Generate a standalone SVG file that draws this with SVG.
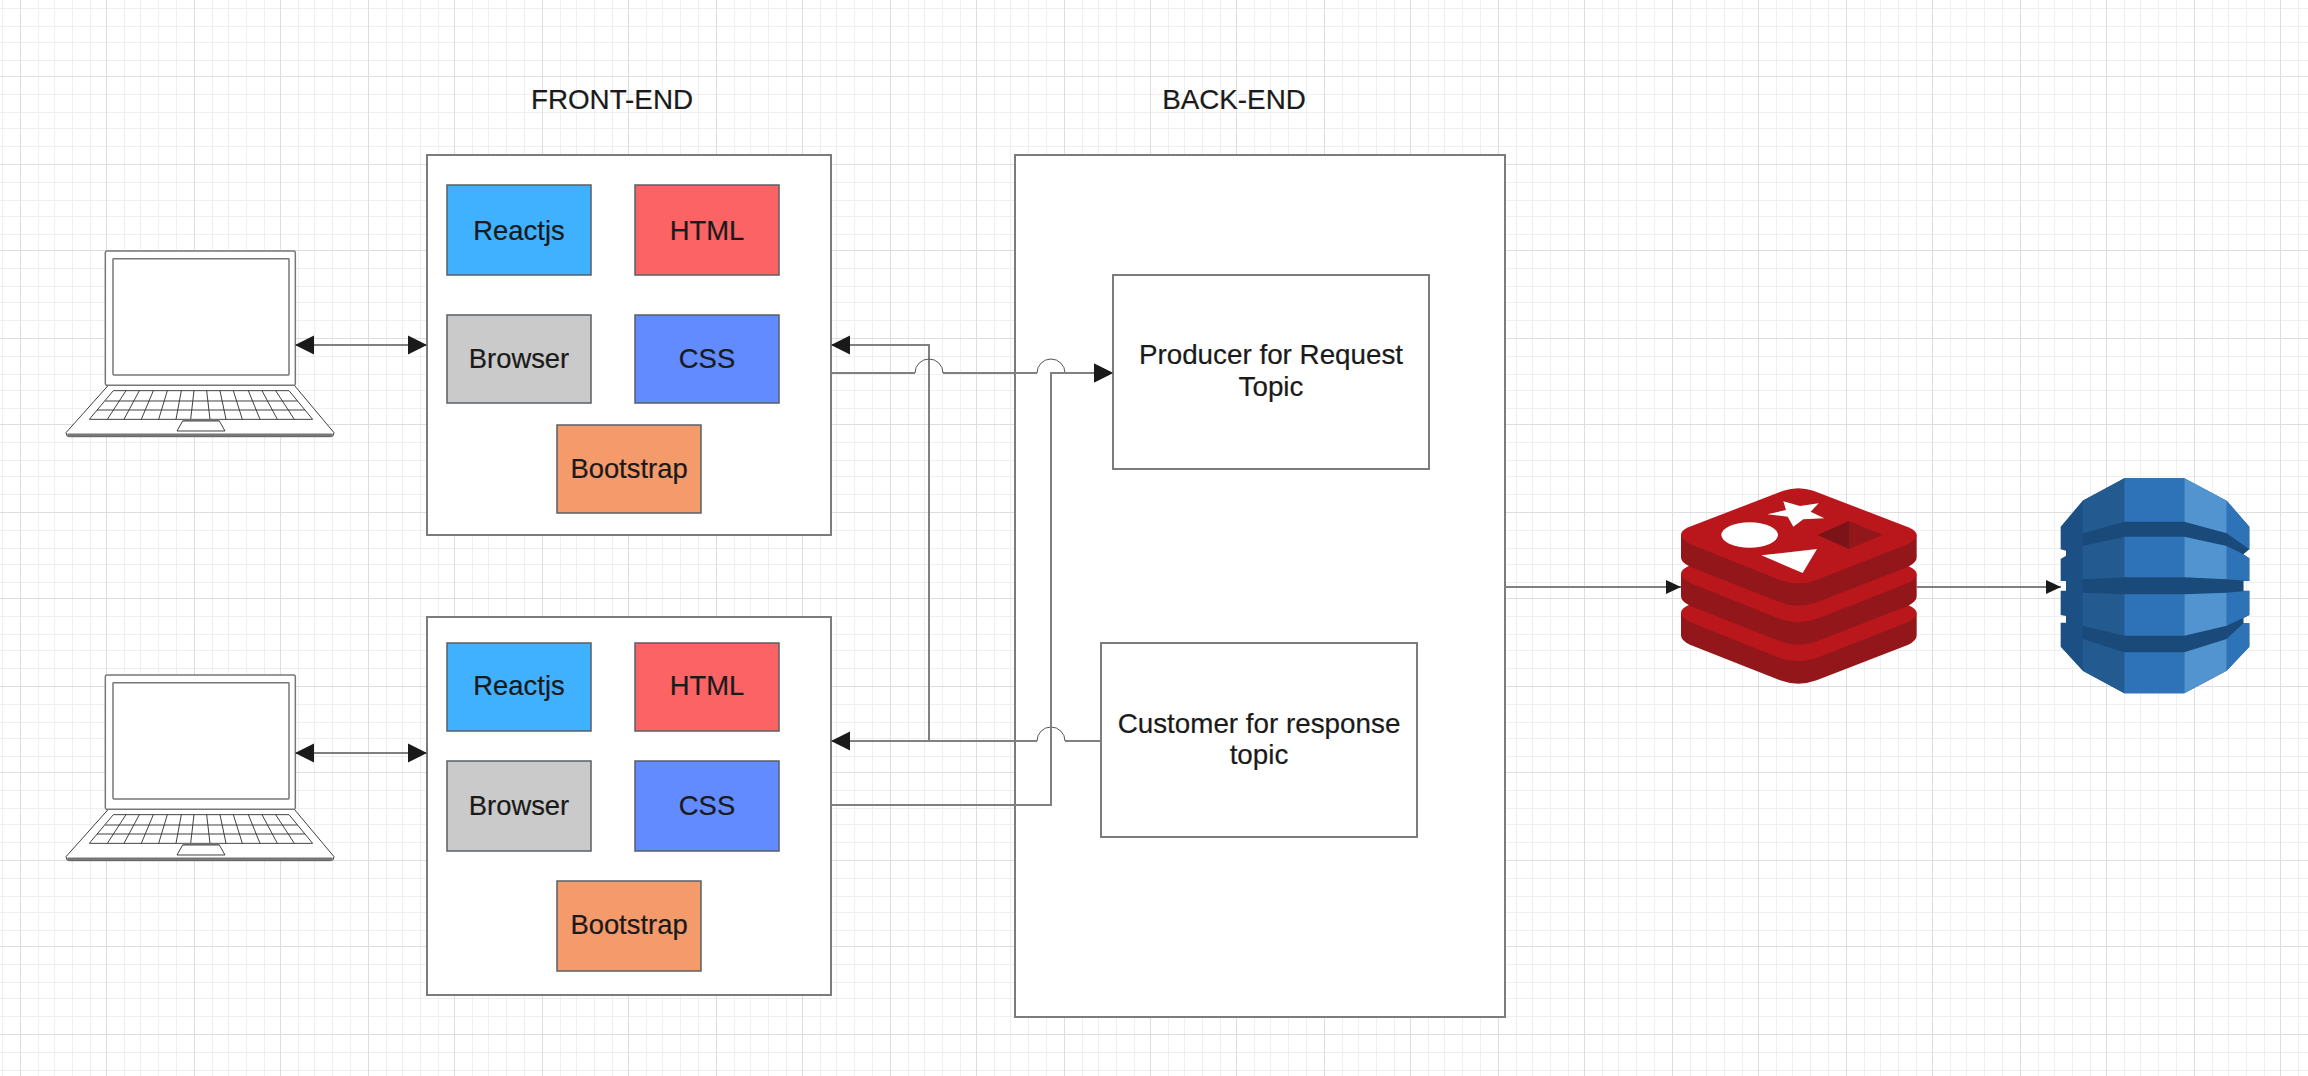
<svg xmlns="http://www.w3.org/2000/svg" width="2308" height="1076" viewBox="0 0 2308 1076">
<style>
.gmin{stroke:#efefef;stroke-width:1;fill:none}
.gmaj{stroke:#dedede;stroke-width:1;fill:none}
.box{fill:#fff;stroke:#7c7c7c;stroke-width:2}
.tile{stroke:#585f66;stroke-width:1.5}
.t{font-family:"Liberation Sans",Arial,sans-serif;font-size:27.4px;fill:#1a1a1a;stroke:#1a1a1a;stroke-width:.2;text-anchor:middle}
.h{font-size:27.8px}
.c{fill:none;stroke:#808080;stroke-width:2}
.j{fill:none;stroke:#555;stroke-width:1}
.lt{fill:#fff;stroke:#777;stroke-width:4.5;stroke-linejoin:round}
.ln{fill:none;stroke:#333;stroke-width:2.8}
.lb{fill:#fff;stroke:#333;stroke-width:2.8;stroke-linejoin:round}
</style>
<defs>
<marker id="big" markerUnits="userSpaceOnUse" markerWidth="19" markerHeight="20" refX="19" refY="10" orient="auto-start-reverse"><path d="M0 .5L19 10L0 19.5Z" fill="#1a1a1a"/></marker>
<marker id="small" markerUnits="userSpaceOnUse" markerWidth="15" markerHeight="15" refX="15" refY="7.5" orient="auto"><path d="M0 .5L15 7.5L0 14.5Z" fill="#1a1a1a"/></marker>
<path id="mv" class="gmin" d="M18 0V1076M34 0V1076M52 0V1076M70 0V1076"/>
<path id="mh" class="gmin" d="M0 18H2308M0 36H2308M0 52H2308M0 70H2308"/>
<g id="laptop" transform="scale(.33333)">
<path class="lb" d="M325 1156L198 1298Q198 1310 208 1310H992Q1002 1310 1002 1298L883 1156Z"/>
<path d="M202 1305H998" stroke="#777" stroke-width="9" fill="none"/>
<rect class="lt" x="316" y="753" width="570" height="403" rx="5"/>
<rect class="lt" x="339" y="776" width="528" height="349" rx="2"/>
<path class="ln" d="M340 1172H867L938 1258H268ZM315 1203H893M291 1230H915M378 1172L322 1258M418 1172L372 1258M460 1172L424 1258M502 1172L476 1258M544 1172L528 1258M582 1172L572 1258M620 1172L630 1258M660 1172L678 1258M700 1172L727 1258M745 1172L780 1258M786 1172L832 1258M827 1172L883 1258"/>
<path d="M548 1260H658" stroke="#777" stroke-width="5" fill="none"/>
<path class="ln" d="M548 1263H658L675 1293H531Z"/>
</g>
<g id="rlayer">
<path fill="#93171A" d="M63 195V262Q63 278 90 290L360 397Q415 417 470 397L745 290Q770 278 770 262V195Z"/>
<path fill="#B9171C" d="M85 172L370 62Q415 47 460 62L745 172Q770 183 770 195Q770 208 745 222L470 330Q415 350 360 330L90 222Q63 208 63 195Q63 182 85 172Z"/>
</g>
</defs>
<g id="grid">
<rect width="2308" height="1076" fill="#fff"/>
<path class="gmin" d="M2.5 0V1076M0 8.5H2308M0 26.5H2308M0 42.5H2308M0 60.5H2308"/>
<use href="#mv" x="20.5"/><use href="#mv" x="106.5"/><use href="#mv" x="194.5"/><use href="#mv" x="280.5"/><use href="#mv" x="368.5"/><use href="#mv" x="454.5"/><use href="#mv" x="542.5"/><use href="#mv" x="628.5"/><use href="#mv" x="716.5"/><use href="#mv" x="802.5"/><use href="#mv" x="890.5"/><use href="#mv" x="976.5"/><use href="#mv" x="1064.5"/><use href="#mv" x="1150.5"/><use href="#mv" x="1236.5"/><use href="#mv" x="1324.5"/><use href="#mv" x="1410.5"/><use href="#mv" x="1498.5"/><use href="#mv" x="1584.5"/><use href="#mv" x="1672.5"/><use href="#mv" x="1758.5"/><use href="#mv" x="1846.5"/><use href="#mv" x="1932.5"/><use href="#mv" x="2020.5"/><use href="#mv" x="2106.5"/><use href="#mv" x="2194.5"/><use href="#mv" x="2280.5"/>
<use href="#mh" y="76.5"/><use href="#mh" y="164.5"/><use href="#mh" y="250.5"/><use href="#mh" y="338.5"/><use href="#mh" y="424.5"/><use href="#mh" y="512.5"/><use href="#mh" y="598.5"/><use href="#mh" y="686.5"/><use href="#mh" y="772.5"/><use href="#mh" y="860.5"/><use href="#mh" y="946.5"/><use href="#mh" y="1034.5"/>
<path class="gmaj" d="M20.5 0V1076M106.5 0V1076M194.5 0V1076M280.5 0V1076M368.5 0V1076M454.5 0V1076M542.5 0V1076M628.5 0V1076M716.5 0V1076M802.5 0V1076M890.5 0V1076M976.5 0V1076M1064.5 0V1076M1150.5 0V1076M1236.5 0V1076M1324.5 0V1076M1410.5 0V1076M1498.5 0V1076M1584.5 0V1076M1672.5 0V1076M1758.5 0V1076M1846.5 0V1076M1932.5 0V1076M2020.5 0V1076M2106.5 0V1076M2194.5 0V1076M2280.5 0V1076M0 76.5H2308M0 164.5H2308M0 250.5H2308M0 338.5H2308M0 424.5H2308M0 512.5H2308M0 598.5H2308M0 686.5H2308M0 772.5H2308M0 860.5H2308M0 946.5H2308M0 1034.5H2308"/>
</g>
<g id="label-frontend"><text class="t h" x="612" y="108.5">FRONT-END</text></g>
<g id="label-backend"><text class="t h" x="1234" y="108.5">BACK-END</text></g>
<g id="laptop-1"><use href="#laptop"/></g>
<g id="laptop-2"><use href="#laptop" y="424"/></g>
<g id="frontend-1">
<rect class="box" x="427" y="155" width="404" height="380"/>
<g id="reactjs-1"><rect class="tile" x="447" y="185" width="144" height="90" fill="#3FB1FF"/><text class="t" x="519" y="240">Reactjs</text></g>
<g id="html-1"><rect class="tile" x="635" y="185" width="144" height="90" fill="#FC6365"/><text class="t" x="707" y="240">HTML</text></g>
<g id="browser-1"><rect class="tile" x="447" y="315" width="144" height="88" fill="#CACACA"/><text class="t" x="519" y="368">Browser</text></g>
<g id="css-1"><rect class="tile" x="635" y="315" width="144" height="88" fill="#618BFF"/><text class="t" x="707" y="368">CSS</text></g>
<g id="bootstrap-1"><rect class="tile" x="557" y="425" width="144" height="88" fill="#F59A6B"/><text class="t" x="629" y="478">Bootstrap</text></g>
</g>
<g id="frontend-2">
<rect class="box" x="427" y="617" width="404" height="378"/>
<g id="reactjs-2"><rect class="tile" x="447" y="643" width="144" height="88" fill="#3FB1FF"/><text class="t" x="519" y="695">Reactjs</text></g>
<g id="html-2"><rect class="tile" x="635" y="643" width="144" height="88" fill="#FC6365"/><text class="t" x="707" y="695">HTML</text></g>
<g id="browser-2"><rect class="tile" x="447" y="761" width="144" height="90" fill="#CACACA"/><text class="t" x="519" y="815">Browser</text></g>
<g id="css-2"><rect class="tile" x="635" y="761" width="144" height="90" fill="#618BFF"/><text class="t" x="707" y="815">CSS</text></g>
<g id="bootstrap-2"><rect class="tile" x="557" y="881" width="144" height="90" fill="#F59A6B"/><text class="t" x="629" y="934">Bootstrap</text></g>
</g>
<g id="backend">
<rect class="box" x="1015" y="155" width="490" height="862"/>
<g id="producer"><rect class="box" x="1113" y="275" width="316" height="194"/><text class="t h" x="1271" y="364">Producer for Request</text><text class="t h" x="1271" y="396">Topic</text></g>
<g id="customer"><rect class="box" x="1101" y="643" width="316" height="194"/><text class="t h" x="1259" y="733">Customer for response</text><text class="t h" x="1259" y="764">topic</text></g>
</g>
<g id="redis" transform="translate(1660 470) scale(.33333)">
<use href="#rlayer" y="234"/>
<use href="#rlayer" y="117"/>
<use href="#rlayer"/>
<path fill="#fff" d="M370 94L420 108L476 100L452 125L493 145L430 148L400 170L383 140L322 133L378 120Z"/>
<ellipse cx="269" cy="195" rx="85" ry="38" fill="#fff"/>
<path fill="#fff" d="M304 256L471 237L428 309Z"/>
<path fill="#7A1419" d="M473 195L567 153V237Z"/>
<path fill="#93171A" d="M567 153L667 195L567 237Z"/>
</g>
<g id="dynamodb" transform="translate(2030 460) scale(.33333)">
<path fill="#1C5084" d="M283 55H463L590 122L658 200V268L640 271V283L658 295V363H640V392H658V465L640 475V490H658V560L590 632L463 700H283L158 632L92 560V488H108V468L92 465V392H108V363H92V297L108 287V272L92 268V200L158 122Z"/>
<path fill="#1A4A7A" d="M158 220L283 185H463L590 220L658 268L640 283L590 258L463 230H283L158 258ZM158 358L283 352H463L590 358L640 363V392L590 398L463 403H283L158 398ZM158 497L283 527H463L590 497L640 475V490L590 537L463 577H283L158 537Z"/>
<path fill="#235B91" d="M158 122L283 55V185L158 220ZM158 258L283 230V352L158 358ZM158 398L283 403V527L158 497ZM158 537L283 577V700L158 632Z"/>
<path fill="#2E73B8" d="M283 55H463V185H283ZM283 230H463V352H283ZM283 403H463V527H283ZM283 577H463V700H283ZM590 122L658 200V268L590 220ZM590 258L640 283L658 295V363L590 358ZM590 398L658 392V465L590 497ZM590 537L640 490H658V560L590 632Z"/>
<path fill="#5294CF" d="M463 55L590 122V220L463 185ZM463 230L590 258V358L463 352ZM463 403L590 398V497L463 527ZM463 577L590 537V632L463 700Z"/>
</g>
<g id="connectors">
<path class="c" d="M295 345H427" marker-start="url(#big)" marker-end="url(#big)"/>
<path class="c" d="M295 753H427" marker-start="url(#big)" marker-end="url(#big)"/>
<path class="c" d="M1101 741H1065M1037 741H929V345H831" marker-end="url(#big)"/>
<path class="c" d="M1101 741H1065M1037 741H831" marker-end="url(#big)"/>
<path class="j" d="M1037 741A14 14 0 0 1 1065 741"/>
<path class="c" d="M831 373H915M943 373H1037M1065 373H1113" marker-end="url(#big)"/>
<path class="j" d="M915 373A14 14 0 0 1 943 373M1037 373A14 14 0 0 1 1065 373"/>
<path class="c" d="M831 805H1051V373H1113" marker-end="url(#big)"/>
<path class="c" d="M1505 587H1681" marker-end="url(#small)"/>
<path class="c" d="M1917 587H2061" marker-end="url(#small)"/>
</g>
</svg>
